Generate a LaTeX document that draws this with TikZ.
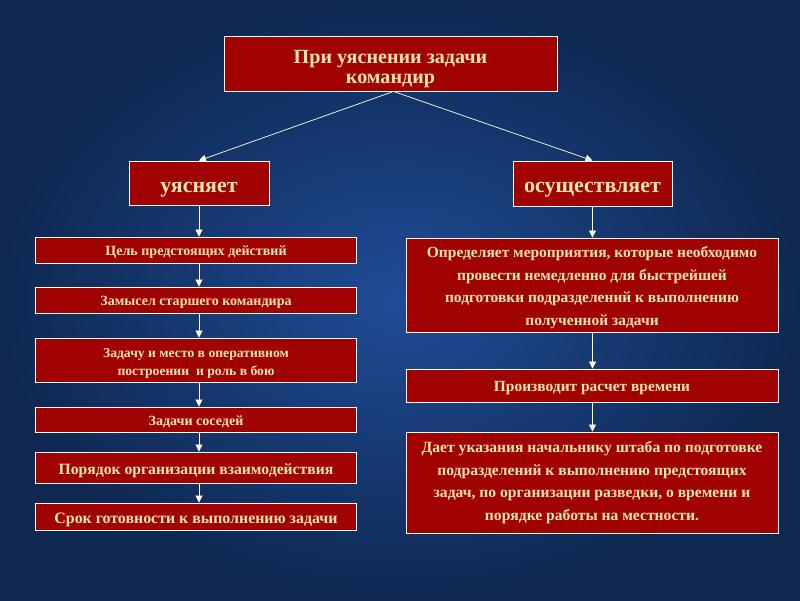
\documentclass[tikz,border=0pt]{standalone}
\usepackage{fontspec}
\setmainfont{Liberation Serif}
\usetikzlibrary{arrows.meta,calc}
\definecolor{bgin}{RGB}{32,76,150}
\definecolor{bgout}{RGB}{14,40,82}
\definecolor{boxred}{RGB}{160,2,2}
\definecolor{cream}{RGB}{255,230,170}
\begin{document}
\begin{tikzpicture}[x=0.025cm,y=-0.025cm,
  box/.style={draw=white!92!yellow,line width=0.6pt,fill=boxred,text=cream,
    font=\bfseries,align=center,inner sep=0pt,
    execute at begin node={\rule{0pt}{1.05em}}},
  conn/.style={draw=white!90!yellow,line width=0.5pt,
    -{Triangle[width=5pt,length=5pt]}}]
\useasboundingbox (0,0) rectangle (800,600);
\shade[inner color=bgin,outer color=bgout] (0,0) rectangle (800,600);
% top
\node[box,minimum width=8.325cm,minimum height=1.375cm,
  font=\bfseries\fontsize{14.3}{14.2}\selectfont] (top) at (390.5,63.5)
  {\rule{0pt}{1.25em}При уяснении задачи\\командир};
\node[box,minimum width=3.5cm,minimum height=1.1cm,
  font=\bfseries\fontsize{15.6}{16}\selectfont] (uya) at (199,183) {уясняет};
\node[box,minimum width=3.975cm,minimum height=1.125cm,
  font=\bfseries\fontsize{15.6}{16}\selectfont] (osu) at (592.5,183.5) {осуществляет};
% left column
\node[box,minimum width=8.025cm,minimum height=0.65cm,
  font=\bfseries\fontsize{10}{11}\selectfont] (l1) at (196,250) {Цель предстоящих действий};
\node[box,minimum width=8.025cm,minimum height=0.65cm,
  font=\bfseries\fontsize{10}{11}\selectfont] (l2) at (196,300) {Замысел старшего командира};
\node[box,minimum width=8.025cm,minimum height=1.1cm,
  font=\bfseries\fontsize{9.7}{12.8}\selectfont] (l3) at (196,360)
  {\rule{0pt}{1.15em}Задачу и место в оперативном\\построении ~и роль в бою};
\node[box,minimum width=8.025cm,minimum height=0.625cm,
  font=\bfseries\fontsize{10}{11}\selectfont] (l4) at (196,419.5) {Задачи соседей};
\node[box,minimum width=8.025cm,minimum height=0.775cm,
  font=\bfseries\fontsize{11.15}{12}\selectfont] (l5) at (196,467.5) {Порядок организации взаимодействия};
\node[box,minimum width=8.025cm,minimum height=0.675cm,
  font=\bfseries\fontsize{11.3}{12}\selectfont] (l6) at (196,516.5) {Срок готовности к выполнению задачи};
% right column
\node[box,minimum width=9.3cm,minimum height=2.35cm,
  font=\bfseries\fontsize{11}{16}\selectfont] (r1) at (592,285)
  {\rule{0pt}{1.05em}Определяет мероприятия, которые необходимо\\провести немедленно для быстрейшей\\подготовки подразделений к выполнению\\полученной задачи};
\node[box,minimum width=9.3cm,minimum height=0.825cm,
  font=\bfseries\fontsize{11}{12}\selectfont] (r2) at (592,385.5) {Производит расчет времени};
\node[box,minimum width=9.3cm,minimum height=2.525cm,
  font=\bfseries\fontsize{11.1}{16}\selectfont] (r3) at (592,482.5)
  {Дает указания начальнику штаба по подготовке\\подразделений к выполнению предстоящих\\задач, по организации разведки, о времени и\\порядке работы на местности.};
% connectors
\coordinate (tb) at ($(top.south)+(3,0)$);
\draw[conn] (tb) -- (uya.north);
\draw[conn] (tb) -- (osu.north);
\draw[conn] (uya.south) -- (uya.south |- l1.north);
\draw[conn] (uya.south |- l1.south) -- (uya.south |- l2.north);
\draw[conn] (uya.south |- l2.south) -- (uya.south |- l3.north);
\draw[conn] (uya.south |- l3.south) -- (uya.south |- l4.north);
\draw[conn] (uya.south |- l4.south) -- (uya.south |- l5.north);
\draw[conn] (uya.south |- l5.south) -- (uya.south |- l6.north);
\draw[conn] (osu.south) -- (osu.south |- r1.north);
\draw[conn] (osu.south |- r1.south) -- (osu.south |- r2.north);
\draw[conn] (osu.south |- r2.south) -- (osu.south |- r3.north);
\end{tikzpicture}
\end{document}
